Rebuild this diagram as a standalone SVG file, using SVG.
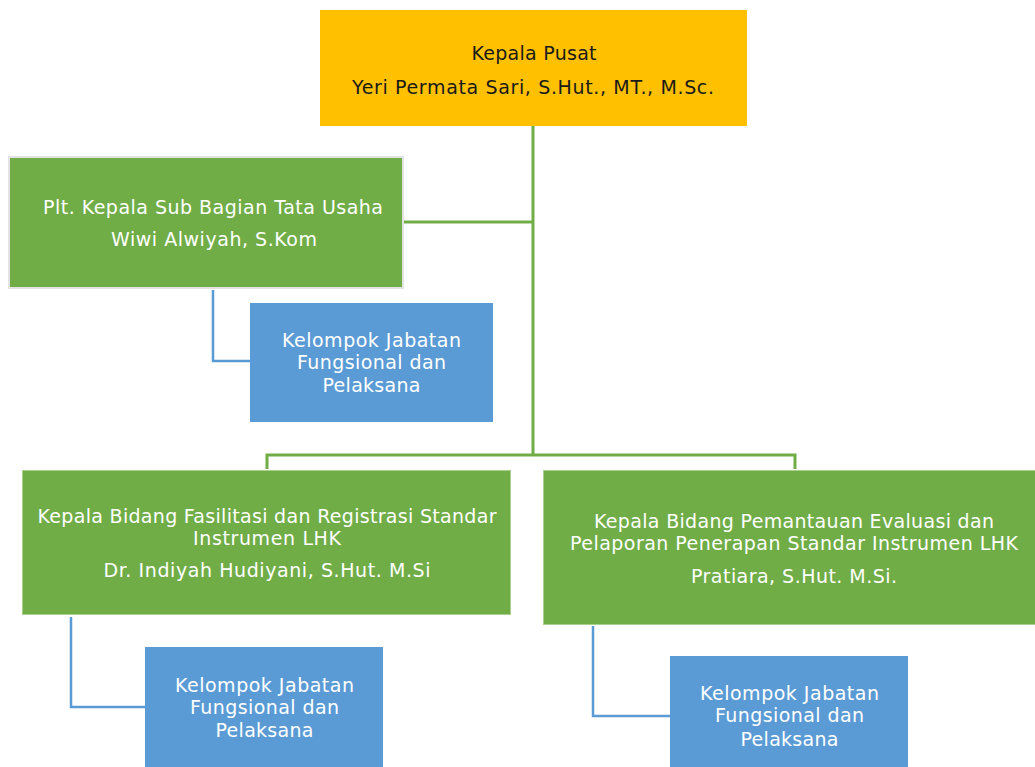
<svg xmlns="http://www.w3.org/2000/svg" width="1035" height="767" viewBox="0 0 1035 767">
<style>
text{font-family:"DejaVu Sans","Liberation Sans",sans-serif;font-size:19px;text-anchor:middle}
.w{fill:#ffffff}
.d{fill:#1a1a1a}
.g{fill:#70AD47}
.b{fill:#5B9BD5}
.gl{stroke:#70AD47;stroke-width:3;fill:none}
.bl{stroke:#5B9BD5;stroke-width:2.5;fill:none}
</style>
<rect width="1035" height="767" fill="#ffffff"/>
<g id="connectors">
<path class="gl" d="M533 126V455"/>
<path class="gl" d="M403 222H533"/>
<path class="gl" d="M267 469V455H795V469"/>
<path class="bl" d="M213 290V361H250"/>
<path class="bl" d="M71 617V707H145"/>
<path class="bl" d="M593 626V716H670"/>
</g>
<g id="kepala-pusat">
<rect x="320" y="10" width="427" height="116" fill="#FFC000"/>
<text class="d" x="534" y="60" textLength="125">Kepala Pusat</text>
<text class="d" x="533" y="94" textLength="362">Yeri Permata Sari, S.Hut., MT., M.Sc.</text>
</g>
<g id="plt-kasubbag">
<rect x="9" y="157" width="394" height="131" class="g" stroke="#e3e3e3" stroke-width="2"/>
<text class="w" x="213" y="214" textLength="340">Plt. Kepala Sub Bagian Tata Usaha</text>
<text class="w" x="214" y="246" textLength="206">Wiwi Alwiyah, S.Kom</text>
</g>
<g id="jf-1">
<rect x="250" y="303" width="243" height="119" class="b"/>
<text class="w" x="371.5" y="347" textLength="179">Kelompok Jabatan</text>
<text class="w" x="371.5" y="369" textLength="149">Fungsional dan</text>
<text class="w" x="371.5" y="392" textLength="98">Pelaksana</text>
</g>
<g id="kabid-fasilitasi">
<rect x="22.5" y="470.5" width="488" height="144" class="g" stroke="#a9d18e" stroke-width="1"/>
<text class="w" x="267" y="523" textLength="459">Kepala Bidang Fasilitasi dan Registrasi Standar</text>
<text class="w" x="267" y="545" textLength="148">Instrumen LHK</text>
<text class="w" x="267" y="577" textLength="327">Dr. Indiyah Hudiyani, S.Hut. M.Si</text>
</g>
<g id="kabid-pemantauan">
<rect x="543.5" y="470.5" width="493" height="154" class="g" stroke="#a9d18e" stroke-width="1"/>
<text class="w" x="794" y="528" textLength="400">Kepala Bidang Pemantauan Evaluasi dan</text>
<text class="w" x="794" y="550" textLength="448">Pelaporan Penerapan Standar Instrumen LHK</text>
<text class="w" x="794" y="583" textLength="206">Pratiara, S.Hut. M.Si.</text>
</g>
<g id="jf-2">
<rect x="145" y="647" width="238" height="121" class="b"/>
<text class="w" x="264.5" y="692" textLength="179">Kelompok Jabatan</text>
<text class="w" x="264.5" y="714" textLength="149">Fungsional dan</text>
<text class="w" x="264.5" y="737" textLength="98">Pelaksana</text>
</g>
<g id="jf-3">
<rect x="670" y="656" width="238" height="112" class="b"/>
<text class="w" x="789.5" y="700" textLength="179">Kelompok Jabatan</text>
<text class="w" x="789.5" y="722" textLength="149">Fungsional dan</text>
<text class="w" x="789.5" y="746" textLength="98">Pelaksana</text>
</g>
</svg>
